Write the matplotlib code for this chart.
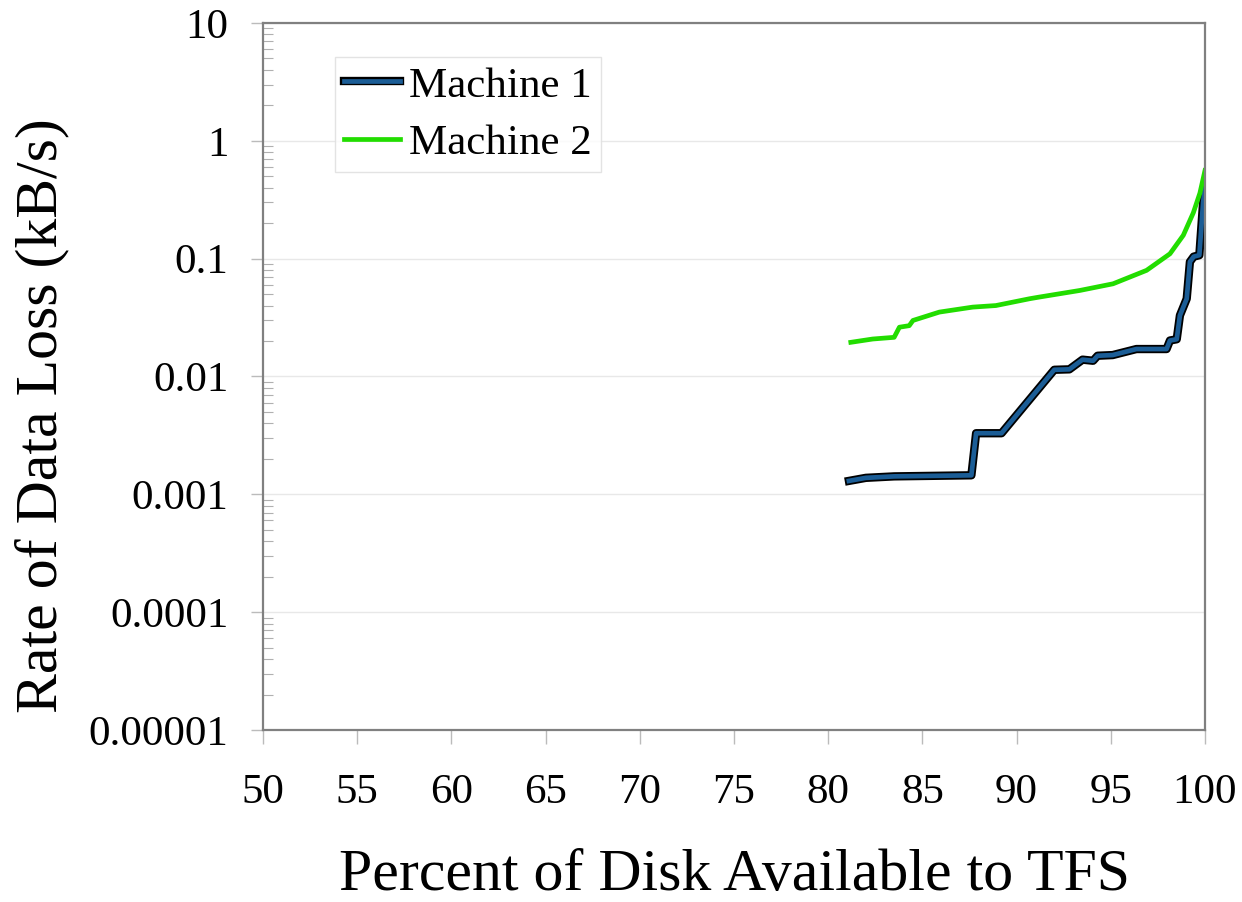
import matplotlib
matplotlib.use("Agg")
import matplotlib.pyplot as plt
import matplotlib.patheffects as pe
from matplotlib.ticker import FixedLocator, FixedFormatter, LogLocator, NullFormatter

# Percent of disk available vs. rate of data loss
m1_x = [81.1, 82.0, 83.5, 87.6, 87.85, 89.2, 92.0, 92.8, 93.5, 94.06, 94.3,
        95.1, 96.36, 97.96, 98.14, 98.5, 98.67, 99.03, 99.2, 99.4, 99.7, 99.9, 100.0]
m1_y = [0.0013, 0.00138, 0.00142, 0.00145, 0.0033, 0.0033, 0.0114, 0.0115,
        0.0139, 0.0136, 0.015, 0.0152, 0.0171, 0.0171, 0.0202, 0.0207, 0.033,
        0.0457, 0.094, 0.104, 0.107, 0.3, 0.4]

m2_x = [81.2, 82.36, 83.5, 83.78, 84.3, 84.5, 85.9, 87.67, 88.9, 90.69, 91.2,
        93.35, 95.12, 96.9, 98.14, 98.85, 99.38, 99.73, 100.0]
m2_y = [0.0195, 0.0208, 0.0215, 0.0262, 0.027, 0.0299, 0.0352, 0.0388, 0.040,
        0.0457, 0.0472, 0.0537, 0.0612, 0.0796, 0.11, 0.158, 0.245, 0.36, 0.56]

x_ticks = [50, 55, 60, 65, 70, 75, 80, 85, 90, 95, 100]
y_ticks = [1e-5, 1e-4, 1e-3, 1e-2, 1e-1, 1, 10]
y_tick_labels = ["0.00001", "0.0001", "0.001", "0.01", "0.1", "1", "10"]

plt.rcParams['font.family'] = ['Liberation Serif', 'DejaVu Serif']

fig = plt.figure(figsize=(12.42, 9.02), dpi=100)
ax = fig.add_axes([0.2118, 0.1907, 0.9702 - 0.2118, 0.9745 - 0.1907])

ax.set_yscale('log')
ax.set_xlim(50, 100)
ax.set_ylim(1e-5, 10)

ax.yaxis.set_major_locator(FixedLocator(y_ticks))
ax.yaxis.set_major_formatter(FixedFormatter(y_tick_labels))
ax.yaxis.set_minor_locator(LogLocator(base=10, subs=range(2, 10), numticks=20))
ax.yaxis.set_minor_formatter(NullFormatter())
ax.set_xticks(x_ticks)

ax.grid(True, which='major', axis='y', color='#e8e8e8', linewidth=1.0)
ax.set_axisbelow(True)

blue = '#1b5d96'
green = '#22dd00'
ax.plot(m1_x, m1_y, color=blue, linewidth=3.4, label='Machine 1',
        path_effects=[pe.Stroke(linewidth=6.0, foreground='black'), pe.Normal()])
ax.plot(m2_x, m2_y, color=green, linewidth=3.4, label='Machine 2')

for side in ['left', 'bottom', 'top', 'right']:
    ax.spines[side].set_color('#808080')
    ax.spines[side].set_linewidth(1.6)

ax.tick_params(axis='y', which='major', direction='out', length=9, width=1.0,
               color='#bbbbbb', labelsize=31, pad=16)
ax.tick_params(axis='y', which='minor', direction='in', length=7, width=0.8,
               color='#b0b0b0')
ax.tick_params(axis='x', which='major', direction='out', length=10, width=1.0,
               color='#bbbbbb', labelsize=31, pad=21)

ax.set_xlabel('Percent of Disk Available to TFS', fontsize=43, labelpad=27)
ax.set_ylabel('Rate of Data Loss (kB/s)', fontsize=43)
ax.yaxis.set_label_coords(-0.206, 0.445)

leg = ax.legend(loc='upper left', bbox_to_anchor=(0.0764, 0.952), fontsize=31,
                frameon=True, fancybox=False, edgecolor='#dddddd',
                handlelength=1.3, handletextpad=0.2, borderpad=0.22,
                labelspacing=0.42, borderaxespad=0.0)
leg.get_frame().set_linewidth(1.0)
leg_lines = leg.get_lines()
leg_lines[0].set_path_effects([pe.Stroke(linewidth=6.0, foreground='black'), pe.Normal()])

fig.savefig('out.png', dpi=100)
